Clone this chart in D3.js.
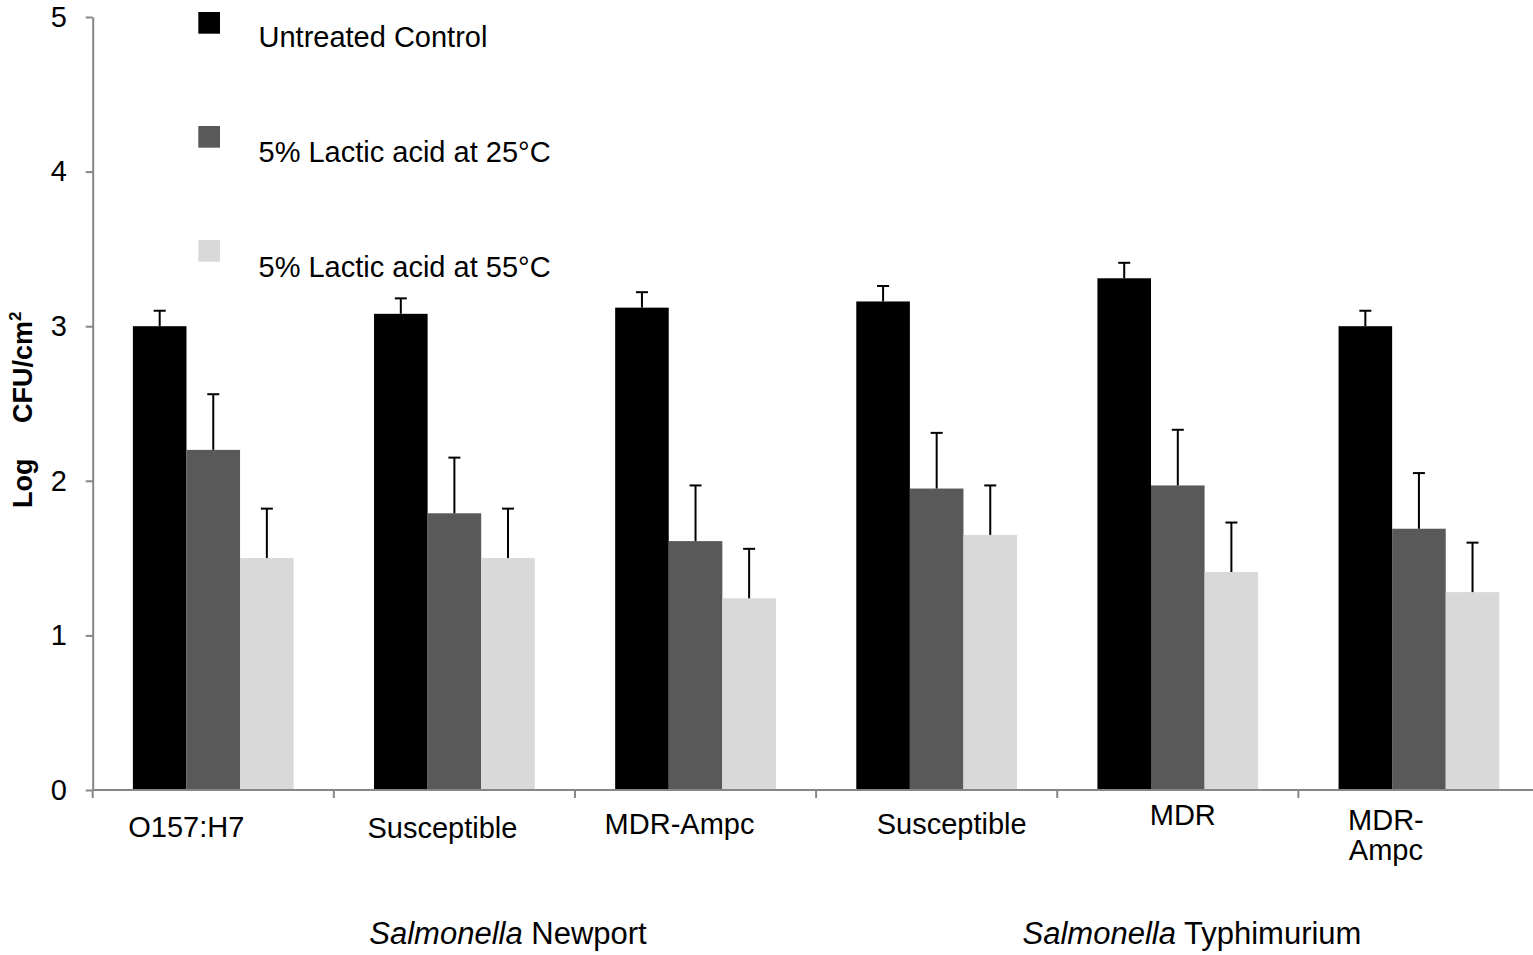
<!DOCTYPE html>
<html>
<head>
<meta charset="utf-8">
<script src="https://cdn.jsdelivr.net/npm/d3@7"></script>
<style>
  body { margin: 0; background: #fff; }
  text { font-family: "Liberation Sans", Arial, sans-serif; fill: #000; }
</style>
</head>
<body>
<svg width="1533" height="955"></svg>
<script>
// categories (x axis) - last one wraps on two lines like the original
const strains = ["O157:H7", "Susceptible", "MDR-Ampc", "Susceptible", "MDR", "MDR-Ampc"];
const strainLines = [["O157:H7"], ["Susceptible"], ["MDR-Ampc"], ["Susceptible"], ["MDR"], ["MDR-", "Ampc"]];
const seriesNames = ["Untreated Control", "5% Lactic acid at 25\u00B0C", "5% Lactic acid at 55\u00B0C"];

// log CFU/cm2
const control = [3.00, 3.08, 3.12, 3.16, 3.31, 3.00];
const lactic25 = [2.20, 1.79, 1.61, 1.95, 1.97, 1.69];
const lactic55 = [1.50, 1.50, 1.24, 1.65, 1.41, 1.28];
// upper error bar (SD)
const controlErr = [0.10, 0.10, 0.10, 0.10, 0.10, 0.10];
const lactic25Err = [0.36, 0.36, 0.36, 0.36, 0.36, 0.36];
const lactic55Err = [0.32, 0.32, 0.32, 0.32, 0.32, 0.32];

const yTicks = [0, 1, 2, 3, 4, 5];
const groups = [
  { italic: "Salmonella", rest: " Newport" },
  { italic: "Salmonella", rest: " Typhimurium" }
];

const colors = ["#000000", "#595959", "#d9d9d9"];

const svg = d3.select("svg");
const fontSize = 29;

const x0 = d3.scaleBand()
  .domain(d3.range(strains.length))
  .range([92.7, 1539.5])
  .padding(0);

const x1 = d3.scaleBand()
  .domain(d3.range(seriesNames.length))
  .range([0, x0.bandwidth()])
  .paddingInner(0)
  .paddingOuter(0.75);

const y = d3.scaleLinear().domain([0, 5]).range([790, 17]);

const values = [control, lactic25, lactic55];
const errs = [controlErr, lactic25Err, lactic55Err];

const rows = [];
strains.forEach((s, i) => {
  seriesNames.forEach((n, j) => {
    rows.push({ i, j, v: values[j][i], e: errs[j][i] });
  });
});

// bars
svg.append("g").selectAll("rect")
  .data(rows)
  .enter()
  .append("rect")
  .attr("x", d => x0(d.i) + x1(d.j))
  .attr("y", d => y(d.v))
  .attr("width", x1.bandwidth())
  .attr("height", d => y(0) - y(d.v))
  .attr("fill", d => colors[d.j]);

// error bars (upper only)
const eb = svg.append("g").attr("stroke", "#000").attr("stroke-width", 2);
rows.forEach(d => {
  const cx = x0(d.i) + x1(d.j) + x1.bandwidth() / 2;
  eb.append("line").attr("x1", cx).attr("x2", cx).attr("y1", y(d.v)).attr("y2", y(d.v + d.e));
  eb.append("line").attr("x1", cx - 6).attr("x2", cx + 6).attr("y1", y(d.v + d.e)).attr("y2", y(d.v + d.e));
});

// y axis
const yAxis = svg.append("g")
  .attr("transform", "translate(92.7,0)")
  .call(d3.axisLeft(y).tickValues(yTicks).tickFormat(d3.format("d")).tickSize(7).tickSizeOuter(0).tickPadding(18.7));
yAxis.select(".domain").attr("stroke", "#868686").attr("stroke-width", 2);
yAxis.selectAll(".tick line").attr("stroke", "#868686").attr("stroke-width", 2);
yAxis.selectAll(".tick text")
  .attr("font-size", fontSize)
  .attr("font-family", "Liberation Sans, Arial, sans-serif")
  .attr("fill", "#000");

// x axis line + ticks at band edges
const xa = svg.append("g").attr("stroke", "#868686").attr("stroke-width", 2);
xa.append("line").attr("x1", 92.7).attr("x2", 1539.5).attr("y1", y(0)).attr("y2", y(0));
d3.range(strains.length + 1).forEach(k => {
  const xx = k < strains.length ? x0(k) : x0.range()[1];
  xa.append("line").attr("x1", xx).attr("x2", xx).attr("y1", y(0)).attr("y2", y(0) + 8);
});

// category labels (Excel-like nudges)
const nudges = [[-27, 47], [-12, 48], [-16, 44], [15, 44], [5, 35], [-33, 40]];
strainLines.forEach((lines, i) => {
  const t = svg.append("text")
    .attr("font-size", fontSize)
    .attr("text-anchor", "middle");
  const cx = x0(i) + x0.bandwidth() / 2 + nudges[i][0];
  lines.forEach((ln, k) => {
    t.append("tspan")
      .attr("x", cx)
      .attr("y", y(0) + nudges[i][1] + k * 30)
      .text(ln);
  });
});

// group labels
const groupCenters = [508, 1192];
groups.forEach((g, k) => {
  const t = svg.append("text")
    .attr("x", groupCenters[k])
    .attr("y", 944)
    .attr("font-size", 31)
    .attr("text-anchor", "middle");
  t.append("tspan").attr("font-style", "italic").text(g.italic);
  t.append("tspan").text(g.rest);
});

// y title, rotated, two pieces with a wide gap as in the original
const yt = svg.append("g")
  .attr("transform", "translate(32,508) rotate(-90)")
  .attr("font-size", 27)
  .attr("font-weight", "bold");
yt.append("text").attr("x", 0).attr("y", 0).text("Log");
const yt2 = yt.append("text").attr("x", 85).attr("y", 0);
yt2.append("tspan").text("CFU/cm");
yt2.append("tspan").attr("font-size", 17).attr("dy", -11).text("2");

// legend
const legend = svg.append("g");
seriesNames.forEach((n, j) => {
  legend.append("rect")
    .attr("x", 198.3).attr("y", 12 + j * 114)
    .attr("width", 21.7).attr("height", 21.7)
    .attr("fill", colors[j]);
  legend.append("text")
    .attr("x", 258.5).attr("y", 47 + j * 115)
    .attr("font-size", fontSize)
    .text(n);
});
</script>
</body>
</html>
